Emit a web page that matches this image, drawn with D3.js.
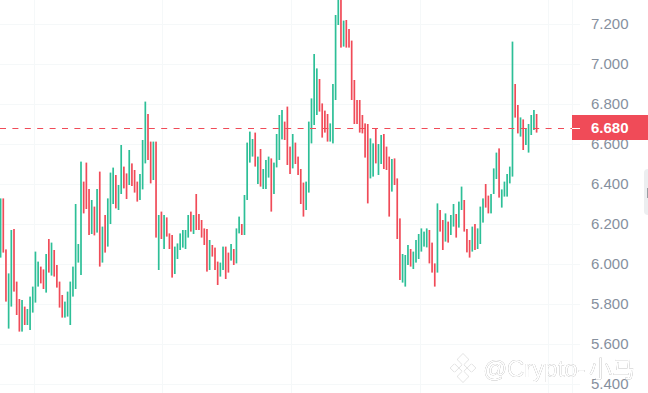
<!DOCTYPE html>
<html>
<head>
<meta charset="utf-8">
<script src="https://cdn.jsdelivr.net/npm/d3@7"></script>
<style>
  html, body { margin: 0; padding: 0; background: #fff; }
  svg { display: block; }
  text { font-family: "Liberation Sans", sans-serif; }
</style>
</head>
<body>
<div id="chart"></div>
<script>
// Candle values, oldest first (1 = up, 0 = down)
const highs = [
  6.328,6.328,6.073,5.953,6.170,6.175,5.912,5.825,5.820,5.787,5.775,5.837,5.887,6.062,6.012,5.987,5.973,6.050,6.125,6.107,
  6.070,5.995,5.912,5.845,5.812,5.862,5.912,5.987,6.300,6.100,6.512,6.412,6.507,6.375,6.320,6.287,6.375,6.462,6.187,6.245,
  6.328,6.457,6.482,6.445,6.395,6.595,6.487,6.453,6.570,6.503,6.470,6.412,6.450,6.620,6.812,6.750,6.612,6.612,6.612,6.245,
  6.262,6.245,6.233,6.153,6.145,6.087,6.103,6.153,6.170,6.170,6.245,6.262,6.245,6.350,6.250,6.220,6.178,6.175,6.120,6.095,
  6.082,6.012,6.007,6.087,6.087,6.057,6.100,6.075,6.178,6.237,6.200,6.345,6.607,6.662,6.625,6.657,6.537,6.575,6.475,6.520,
  6.537,6.528,6.507,6.650,6.745,6.770,6.712,6.787,6.587,6.650,6.607,6.537,6.475,6.407,6.412,6.712,6.828,7.050,6.978,6.925,
  6.803,6.767,6.750,6.703,6.900,7.245,7.340,7.340,7.217,7.220,7.175,7.117,6.920,6.820,6.820,6.745,6.703,6.700,6.628,6.603,
  6.675,6.600,6.645,6.650,6.587,6.537,6.525,6.528,6.428,6.228,6.050,6.045,6.095,6.075,6.062,6.120,6.150,6.178,6.162,6.178,
  6.170,6.107,6.003,6.303,6.270,6.220,6.253,6.212,6.245,6.300,6.250,6.312,6.387,6.320,6.175,6.120,6.187,6.200,6.178,6.287,
  6.328,6.400,6.342,6.350,6.478,6.557,6.578,6.373,6.412,6.450,6.487,7.112,6.900,6.795,6.733,6.723,6.678,6.700,6.745,6.770,
  6.750
];
const lows = [
  6.032,6.057,5.812,5.677,5.787,5.862,5.745,5.662,5.662,5.695,5.695,5.670,5.757,5.807,5.887,5.903,5.875,5.857,5.957,5.942,
  5.937,5.882,5.782,5.732,5.732,5.737,5.695,5.837,5.875,6.007,5.945,6.253,6.275,6.145,6.150,6.143,6.157,5.987,6.007,6.057,
  6.087,6.200,6.300,6.278,6.270,6.350,6.378,6.325,6.395,6.390,6.357,6.312,6.320,6.373,6.503,6.520,6.403,6.420,6.132,5.970,
  6.125,6.075,6.137,6.075,5.932,5.950,6.025,6.070,6.082,6.075,6.132,6.162,6.150,6.170,6.170,6.132,6.095,5.962,5.970,6.037,
  5.970,5.895,5.937,5.970,5.925,5.957,6.017,5.995,6.003,6.153,6.145,6.145,6.320,6.507,6.537,6.487,6.400,6.387,6.375,6.375,
  6.432,6.262,6.350,6.483,6.520,6.623,6.620,6.495,6.450,6.478,6.500,6.445,6.300,6.237,6.270,6.357,6.603,6.695,6.745,6.762,
  6.632,6.657,6.612,6.612,6.603,6.820,7.195,7.082,7.087,7.082,7.082,6.820,6.700,6.700,6.657,6.653,6.532,6.303,6.428,6.437,
  6.503,6.445,6.500,6.475,6.470,6.237,6.362,6.395,6.125,5.920,5.907,5.887,5.995,5.987,5.975,6.007,6.025,6.062,6.087,6.083,
  6.003,5.957,5.887,5.957,6.162,6.070,6.112,6.107,6.145,6.187,6.132,6.182,6.270,6.162,6.058,6.032,6.062,6.070,6.075,6.100,
  6.207,6.282,6.253,6.253,6.350,6.425,6.332,6.282,6.337,6.337,6.403,6.437,6.732,6.653,6.637,6.570,6.595,6.557,6.645,6.670,
  6.657
];
const ups = [
  1,0,0,1,1,0,0,0,1,0,1,1,1,1,1,0,0,1,0,1,
  0,0,0,0,1,1,1,1,1,1,1,0,0,0,1,0,1,0,1,0,
  1,1,1,0,1,1,0,0,1,0,0,0,1,1,1,0,0,1,0,1,
  0,1,0,0,0,1,1,1,1,1,1,0,1,0,0,0,0,0,1,0,
  0,0,1,1,0,0,1,0,1,1,0,1,1,1,1,0,1,0,1,1,
  1,0,1,1,1,1,0,0,0,1,0,0,0,0,1,1,1,1,1,0,
  0,0,0,1,1,1,1,0,1,0,0,0,0,0,0,0,0,0,1,1,
  0,1,1,0,0,0,1,0,0,0,1,1,1,0,1,1,1,1,1,1,
  0,0,0,1,0,0,1,0,1,1,0,1,1,0,0,0,1,0,1,1,
  1,0,0,1,1,1,0,1,1,1,1,1,0,0,1,0,1,1,1,1,
  0
];

const priceTicks = [7.2, 7.0, 6.8, 6.6, 6.4, 6.2, 6.0, 5.8, 5.6, 5.4];
const lastPrice = 6.68;
const timeGrid = [12.3, 60.4, 108.5, 156.5, 204.4];  // candle index of the vertical grid lines

// Setup
const svgWidth = 648;
const svgHeight = 393;
const plotRight = 572;
const upColor = "#2dbf97";
const downColor = "#f04b58";

const svg = d3.select("#chart")
    .append("svg")
    .attr("width", svgWidth)
    .attr("height", svgHeight);

const x = d3.scaleLinear().domain([0, 200]).range([0.6, 536.6]);
const y = d3.scaleLinear().domain([7.2, 5.4]).range([24, 384]);

// Grid
const gridColor = "#f5f8f9";
svg.append("g").selectAll("line")
    .data(timeGrid)
    .enter().append("line")
    .attr("x1", d => Math.round(x(d)) + 0.5)
    .attr("x2", d => Math.round(x(d)) + 0.5)
    .attr("y1", 0)
    .attr("y2", svgHeight)
    .attr("stroke", gridColor);

svg.append("g").selectAll("line")
    .data(priceTicks)
    .enter().append("line")
    .attr("x1", 0)
    .attr("x2", 580)
    .attr("y1", d => y(d) + 0.5)
    .attr("y2", d => y(d) + 0.5)
    .attr("stroke", gridColor);

svg.append("line")
    .attr("x1", plotRight + 0.5)
    .attr("x2", plotRight + 0.5)
    .attr("y1", 0)
    .attr("y2", svgHeight)
    .attr("stroke", gridColor);

// Candles
svg.append("g").selectAll("rect")
    .data(ups)
    .enter().append("rect")
    .attr("x", (d, i) => x(i) - 0.85)
    .attr("width", 1.7)
    .attr("y", (d, i) => y(highs[i]))
    .attr("height", (d, i) => y(lows[i]) - y(highs[i]))
    .attr("fill", d => d ? upColor : downColor);

// Last price line
svg.append("line")
    .attr("x1", 0)
    .attr("x2", plotRight)
    .attr("y1", y(lastPrice) + 0.5)
    .attr("y2", y(lastPrice) + 0.5)
    .attr("stroke", downColor)
    .attr("stroke-dasharray", "6 6.4");

// Price axis
const axis = d3.axisRight(y)
    .tickValues(priceTicks)
    .tickSize(0)
    .tickPadding(0)
    .tickFormat(d3.format(".3f"));

const axisG = svg.append("g")
    .attr("transform", "translate(591,0)")
    .call(axis);
axisG.select(".domain").remove();
axisG.selectAll("text")
    .attr("fill", "#86909e")
    .style("font-size", "15px");

// Last price label
svg.append("rect")
    .attr("x", plotRight)
    .attr("y", y(lastPrice) - 13)
    .attr("width", svgWidth - plotRight)
    .attr("height", 25)
    .attr("fill", downColor);
svg.append("line")
    .attr("x1", plotRight)
    .attr("x2", 580)
    .attr("y1", y(lastPrice) + 0.5)
    .attr("y2", y(lastPrice) + 0.5)
    .attr("stroke", "#fff");
svg.append("text")
    .attr("x", 591)
    .attr("y", y(lastPrice))
    .attr("dy", "0.35em")
    .attr("fill", "#fff")
    .style("font-size", "15px")
    .style("font-weight", "bold")
    .text(d3.format(".3f")(lastPrice));

// Small grey tab cut off at the right edge
svg.append("rect")
    .attr("x", 644)
    .attr("y", 169)
    .attr("width", 12)
    .attr("height", 46)
    .attr("rx", 4)
    .attr("fill", "#eceef0");
svg.append("rect")
    .attr("x", 647)
    .attr("y", 188)
    .attr("width", 1)
    .attr("height", 10)
    .attr("fill", "#9a9ea4");

// Watermark
const mark = svg.append("g")
    .style("filter", "drop-shadow(0.6px 0.8px 0.6px rgba(90,90,90,0.75))");

const logo = mark.append("g").attr("transform", "translate(463,368)");
[[0, -8.5, 4.2], [-8.5, 0, 3], [8.5, 0, 3], [0, 0, 3], [0, 8.5, 4.2]].forEach(p => {
  logo.append("rect")
      .attr("x", -p[2])
      .attr("y", -p[2])
      .attr("width", 2 * p[2])
      .attr("height", 2 * p[2])
      .attr("fill", "#fff")
      .attr("transform", `translate(${p[0]},${p[1]}) rotate(45)`);
});

const wm = mark.append("text")
    .attr("x", 483)
    .attr("y", 377)
    .attr("fill", "#fff")
    .style("font-size", "24px")
    .style("font-family", "'Liberation Sans','Noto Sans CJK SC',sans-serif");
wm.append("tspan").text("@");
wm.append("tspan").attr("x", 507).text("Crypto-");
wm.append("tspan").attr("x", 589).style("font-size", "23px").text("小马");
</script>
</body>
</html>
